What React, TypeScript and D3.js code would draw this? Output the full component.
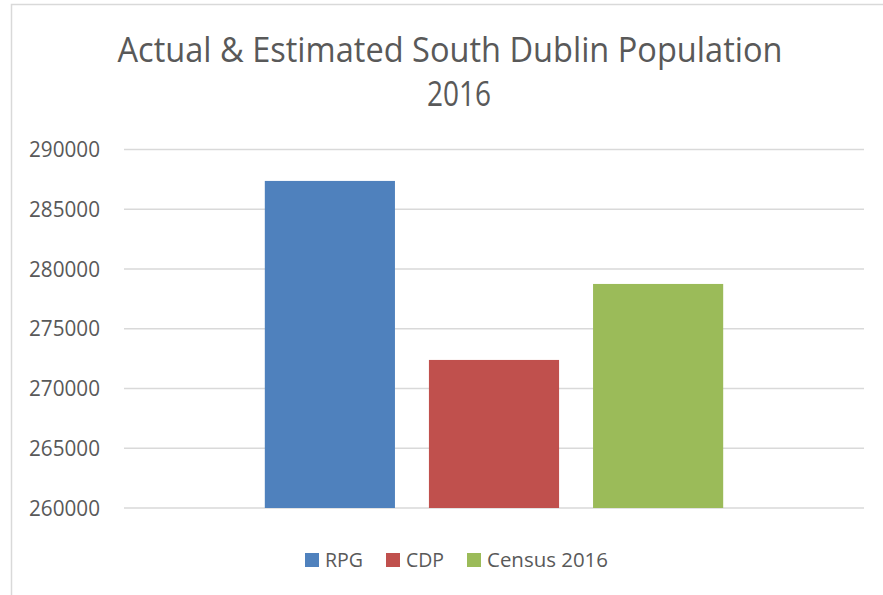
import React, { useEffect, useRef } from "react";
import * as d3 from "d3";

// chart data
const categories = ["South Dublin"];
const seriesNames = ["RPG", "CDP", "Census 2016"];
const seriesValues = [287370, 272390, 278749];
const seriesColors = ["#4F81BD", "#C0504D", "#9BBB59"];
const yTicks = [260000, 265000, 270000, 275000, 280000, 285000, 290000];
const titleLines = ["Actual & Estimated South Dublin Population", "2016"];

function drawChart(container: SVGSVGElement) {
  const width = 883;
  const height = 595;
  const margin = { top: 149.5, right: 19, bottom: 87, left: 124 };
  const font = "'Open Sans', sans-serif";
  const textColor = "#595959";

  const svg = d3.select(container);
  svg.selectAll("*").remove();

  svg.append("rect").attr("width", width).attr("height", height).attr("fill", "#fff");

  // chart border
  svg
    .append("rect")
    .attr("x", 11.5)
    .attr("y", 4.5)
    .attr("width", width + 20)
    .attr("height", height + 20)
    .attr("fill", "none")
    .attr("stroke", "#D9D9D9")
    .attr("stroke-width", 1.5);

  // title
  const titleG = svg.append("g").attr("font-family", font).attr("fill", textColor);
  titleG
    .append("text")
    .attr("x", 450)
    .attr("y", 62)
    .attr("text-anchor", "middle")
    .style("font-size", "34px")
    .attr("textLength", 665)
    .attr("lengthAdjust", "spacingAndGlyphs")
    .text(titleLines[0]);
  titleG
    .append("text")
    .attr("x", 459)
    .attr("y", 106)
    .attr("text-anchor", "middle")
    .style("font-size", "34px")
    .attr("textLength", 64)
    .attr("lengthAdjust", "spacingAndGlyphs")
    .text(titleLines[1]);

  // scales
  const y = d3
    .scaleLinear()
    .domain([260000, 290000])
    .range([height - margin.bottom, margin.top]);

  const x0 = d3
    .scaleBand()
    .domain(categories)
    .range([margin.left, width - margin.right])
    .padding(0.235);

  const x1 = d3
    .scaleBand()
    .domain(seriesNames)
    .range([0, x0.bandwidth()])
    .paddingInner(0.207);

  // gridlines
  svg
    .append("g")
    .selectAll("line")
    .data(yTicks)
    .enter()
    .append("line")
    .attr("x1", margin.left)
    .attr("x2", width - margin.right)
    .attr("y1", (d) => y(d))
    .attr("y2", (d) => y(d))
    .attr("stroke", "#D9D9D9")
    .attr("stroke-width", 1.5);

  // y tick labels
  svg
    .append("g")
    .selectAll("text")
    .data(yTicks)
    .enter()
    .append("text")
    .attr("x", 100)
    .attr("y", (d) => y(d))
    .attr("dy", "0.36em")
    .attr("text-anchor", "end")
    .attr("font-family", font)
    .attr("fill", textColor)
    .style("font-size", "21px")
    .attr("textLength", 71)
    .attr("lengthAdjust", "spacingAndGlyphs")
    .text((d) => String(d));

  // bars
  const barG = svg
    .append("g")
    .attr("transform", `translate(${x0(categories[0])},0)`);
  barG
    .selectAll("rect")
    .data(seriesNames)
    .enter()
    .append("rect")
    .attr("x", (d) => x1(d) as number)
    .attr("y", (d, i) => y(seriesValues[i]))
    .attr("width", x1.bandwidth())
    .attr("height", (d, i) => y(260000) - y(seriesValues[i]))
    .attr("fill", (d, i) => seriesColors[i]);

  // legend
  const legendX = [305, 386, 467];
  const legendW = [38, 38, 121];
  const legend = svg.append("g").attr("font-family", font).attr("fill", textColor);
  seriesNames.forEach((name, i) => {
    const g = legend.append("g").attr("transform", `translate(${legendX[i]},553)`);
    g.append("rect").attr("width", 14).attr("height", 14).attr("fill", seriesColors[i]);
    g.append("text")
      .attr("x", 20)
      .attr("y", 14)
      .style("font-size", "20px")
      .attr("textLength", legendW[i])
      .attr("lengthAdjust", "spacingAndGlyphs")
      .text(name);
  });
}

const App = () => {
  const ref = useRef<SVGSVGElement>(null);

  useEffect(() => {
    if (ref.current) drawChart(ref.current);
  }, []);

  return (
    <svg
      ref={ref}
      width={883}
      height={595}
      style={{ position: "fixed", top: 0, left: 0, display: "block" }}
    />
  );
};

export default App;
